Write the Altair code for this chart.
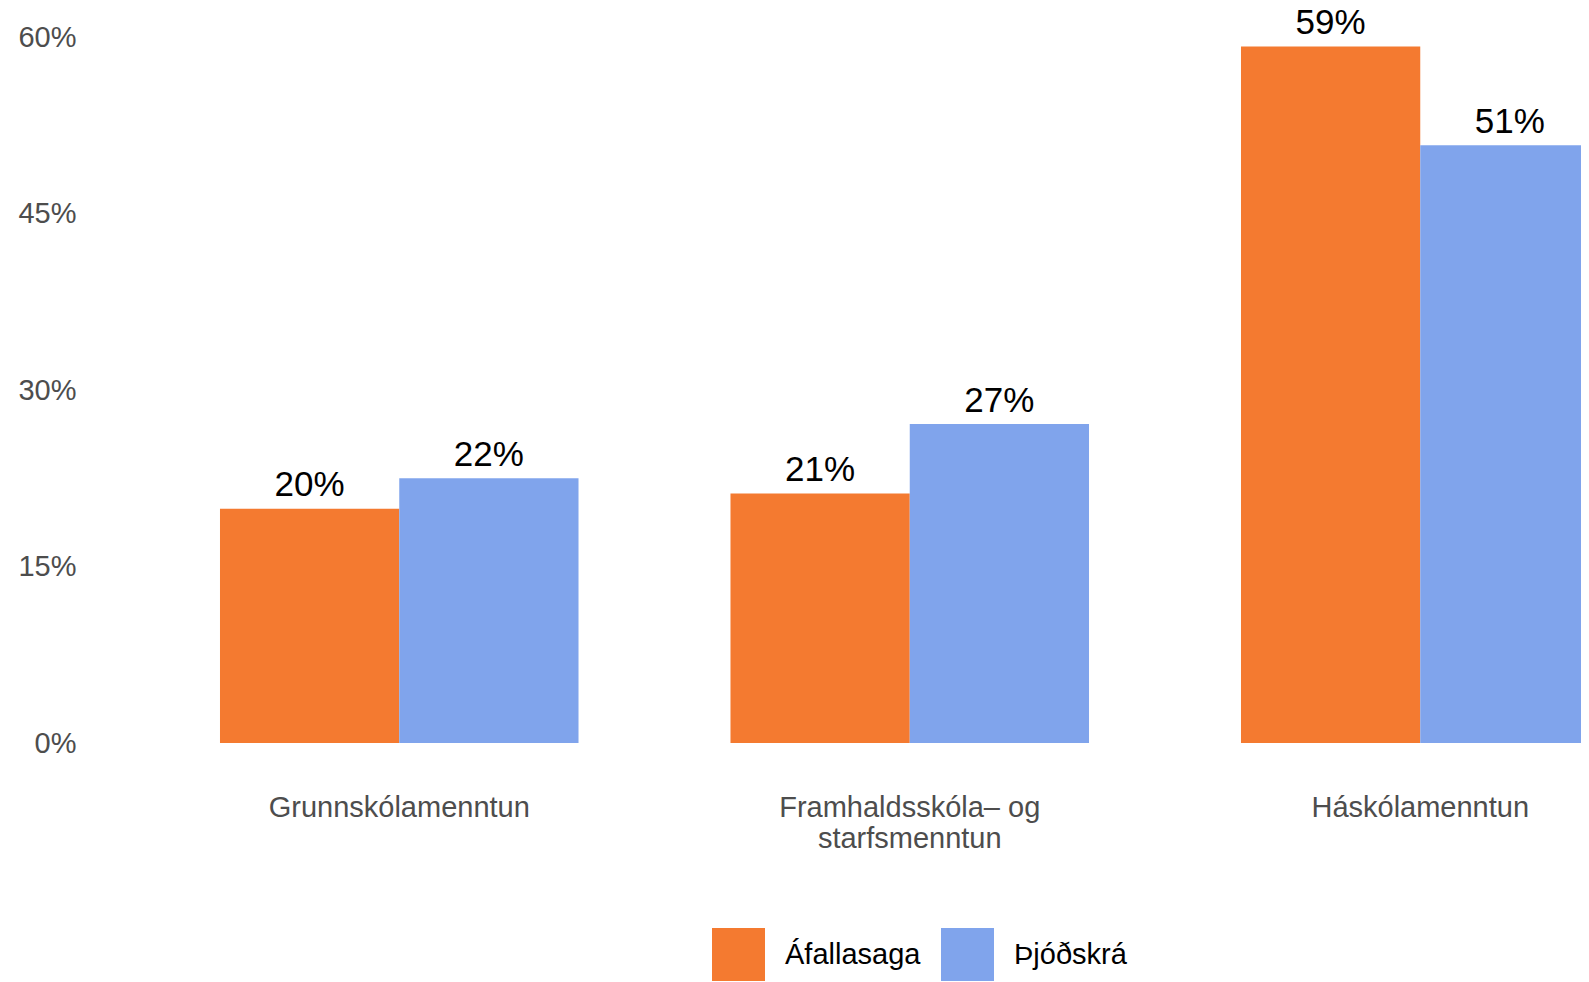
import altair as alt
import pandas as pd

categories = ["Grunnskólamenntun", "Framhaldsskóla– og\nstarfsmenntun", "Háskólamenntun"]
series = ["Áfallasaga", "Þjóðskrá"]
afallasaga = [19.9, 21.2, 59.2]
thjodskra = [22.5, 27.1, 50.8]
afallasaga_labels = ["20%", "21%", "59%"]
thjodskra_labels = ["22%", "27%", "51%"]
y_ticks = [0, 15, 30, 45, 60]
colors = ["#F47A30", "#80A4EC"]

rows = []
for i, c in enumerate(categories):
    rows.append({"cat": c, "series": series[0], "value": afallasaga[i], "label": afallasaga_labels[i]})
    rows.append({"cat": c, "series": series[1], "value": thjodskra[i], "label": thjodskra_labels[i]})
df = pd.DataFrame(rows)

W = 1491
H = 706
FONT = "Liberation Sans"

x_enc = alt.X(
    "cat:N",
    sort=categories,
    scale=alt.Scale(range=[54, 1585.5], paddingInner=0.2977, paddingOuter=0.14885),
    axis=alt.Axis(
        title=None,
        labelAngle=0,
        labelExpr="split(datum.label, '\\n')",
        domain=False,
        ticks=False,
        grid=False,
        labelPadding=50,
        labelFontSize=29,
        labelLineHeight=31,
        labelLimit=0,
        labelColor="#4d4d4d",
        labelFont=FONT,
        labelBaseline="top",
    ),
)
xoff = alt.XOffset("series:N", sort=series, scale=alt.Scale(paddingInner=0, paddingOuter=0))
y_enc = alt.Y(
    "value:Q",
    scale=alt.Scale(domain=[0, 60], nice=False, zero=True),
    axis=alt.Axis(
        values=y_ticks,
        labelExpr="datum.value + '%'",
        title=None,
        domain=False,
        ticks=False,
        grid=False,
        labelPadding=14,
        labelFontSize=29,
        labelColor="#4d4d4d",
        labelFont=FONT,
    ),
)

bars = alt.Chart(df).mark_bar(clip=True).encode(
    x=x_enc,
    xOffset=xoff,
    y=y_enc,
    color=alt.Color(
        "series:N",
        sort=series,
        scale=alt.Scale(domain=series, range=colors),
        legend=alt.Legend(
            title=None,
            orient="none",
            legendX=622,
            legendY=891,
            direction="horizontal",
            symbolType="square",
            symbolSize=2809,
            symbolStrokeWidth=0,
            symbolOpacity=1,
            labelFontSize=29,
            labelColor="black",
            labelFont=FONT,
            labelOffset=20,
            labelLimit=0,
            columnPadding=20,
            padding=0,
        ),
    ),
)

texts = alt.Chart(df).mark_text(
    baseline="alphabetic", dy=-12.6, fontSize=35, font=FONT, color="black"
).encode(x=x_enc, xOffset=xoff, y=y_enc, text="label:N")

chart = (
    alt.layer(bars, texts)
    .properties(
        width=W,
        height=H,
        autosize=alt.AutoSizeParams(type="none"),
        padding={"left": 82, "top": 29, "right": 0, "bottom": 240},
    )
    .configure(font=FONT, view=alt.ViewConfig(stroke=None))
)

chart.save("out.html", embed_options={"renderer": "svg", "actions": False})
